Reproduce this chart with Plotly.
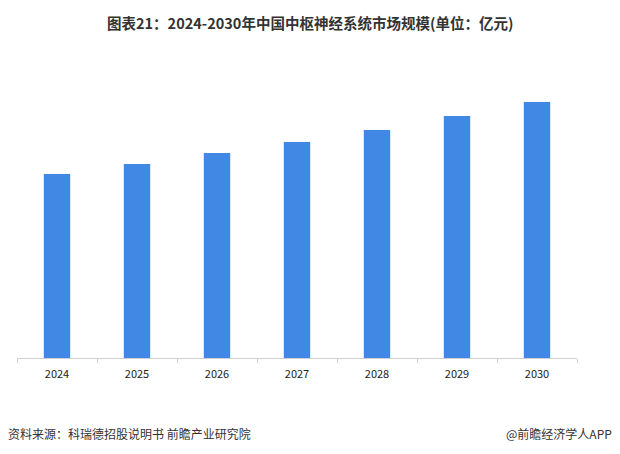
import plotly.graph_objects as go

years = ["2024", "2025", "2026", "2027", "2028", "2029", "2030"]
values = [184, 194, 205, 216, 228, 242, 256]

# page body has an 8px margin, so figure coords are offset by 8px
OFF = 8
W, H = 620, 454
L, R, T, B = 17 - OFF, W - 577 + OFF, 60 - OFF, H - 358 + OFF

fig = go.Figure(go.Bar(
    x=years, y=values,
    marker=dict(color="#4187E4", line=dict(width=0)),
))


def px(x):
    return (x - OFF - L) / (W - L - R)


def py(y):
    return (H - B - (y - OFF)) / (H - T - B)


fig.update_layout(
    width=W, height=H,
    margin=dict(l=L, r=R, t=T, b=B),
    plot_bgcolor="white", paper_bgcolor="white",
    bargap=0.67,
    showlegend=False,
    font=dict(family="Noto Sans CJK SC", color="#333"),
    xaxis=dict(showline=True, linecolor="#D0D0D0", linewidth=1,
               ticks="outside", tickson="boundaries", tickcolor="#D0D0D0",
               ticklen=4, ticklabelstandoff=6,
               tickfont=dict(size=11, color="#222")),
    yaxis=dict(visible=False, range=[0, 298]),
    annotations=[
        dict(text="<b>图表21：2024-2030年中国中枢神经系统市场规模(单位：亿元)</b>",
             x=px(310), y=py(22), xref="paper", yref="paper",
             xanchor="center", yanchor="middle", showarrow=False,
             font=dict(size=14.5, color="#333")),
        dict(text="资料来源：科瑞德招股说明书 前瞻产业研究院",
             x=px(6), y=py(433), xref="paper", yref="paper",
             xanchor="left", yanchor="middle", showarrow=False,
             font=dict(size=12, color="#333")),
        dict(text="@前瞻经济学人APP",
             x=px(614), y=py(433), xref="paper", yref="paper",
             xanchor="right", yanchor="middle", showarrow=False,
             font=dict(size=12, color="#333")),
    ],
)

fig.write_html("out.html")
